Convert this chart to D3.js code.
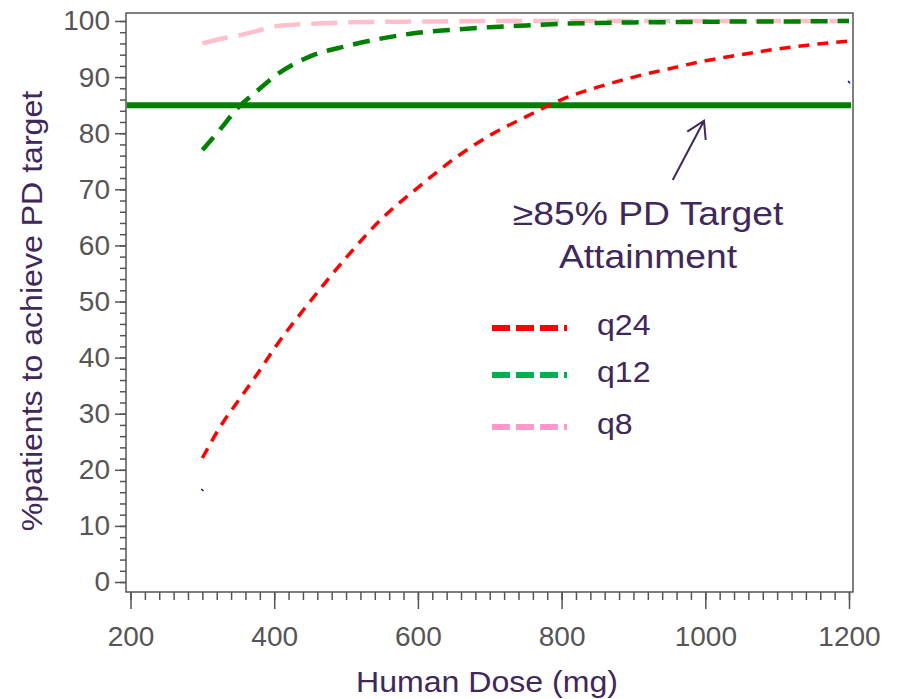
<!DOCTYPE html>
<html>
<head>
<meta charset="utf-8">
<script src="https://cdn.jsdelivr.net/npm/d3@7"></script>
<style>
  body { margin: 0; background: #fff; }
  svg text { font-family: "Liberation Sans", Arial, sans-serif; }
</style>
</head>
<body>
<svg width="901" height="699"></svg>
<script>
// valori
var dosi = [300, 325, 350, 375, 400, 450, 500, 550, 600, 650, 700, 750, 800, 850, 900, 950, 1000, 1050, 1100, 1150, 1200];
var q24 = [22.1, 27.7, 32.3, 36.8, 41.6, 50.0, 57.8, 64.8, 70.3, 75.4, 79.6, 82.9, 86.0, 88.2, 90.0, 91.5, 92.9, 94.0, 95.0, 95.8, 96.4];
var q12 = [77.0, 80.7, 84.6, 87.4, 90.1, 93.7, 95.5, 96.9, 97.9, 98.45, 98.9, 99.2, 99.5, 99.65, 99.75, 99.8, 99.85, 99.9, 99.9, 99.95, 100];
var q8 = [96.0, 96.8, 97.4, 98.2, 99.0, 99.5, 99.75, 99.85, 99.9, 99.95, 100, 100, 100, 100, 100, 100, 100, 100, 100, 100, 100];
var blu_dosi = [300, 1200];
var blu_valori = [16.4, 89.1];
var soglia = 85;
var x_ticks = [200, 400, 600, 800, 1000, 1200];
var y_ticks = [0, 10, 20, 30, 40, 50, 60, 70, 80, 90, 100];
var legenda = ["q24", "q12", "q8"];

var viola = "#40285a";

var svg = d3.select("svg");
var x = d3.scaleLinear().domain([200, 1200]).range([130.5, 849]);
var y = d3.scaleLinear().domain([0, 100]).range([582, 21]);

// cornice
svg.append("rect")
  .attr("x", 126).attr("y", 13)
  .attr("width", 727).attr("height", 579)
  .attr("fill", "none")
  .attr("stroke", "#555")
  .attr("stroke-width", 1.5);

// asse y
var minori_y = d3.range(0, 101, 2);
svg.append("g")
  .attr("transform", "translate(126,0)")
  .call(d3.axisLeft(y).tickValues(minori_y).tickSize(6).tickFormat(""))
  .call(function(g){ g.select(".domain").remove(); });
svg.append("g")
  .attr("transform", "translate(126,0)")
  .call(d3.axisLeft(y).tickValues(y_ticks).tickSize(11).tickPadding(5))
  .call(function(g){ g.select(".domain").remove(); })
  .selectAll("text")
  .attr("font-size", 28)
  .attr("font-family", "Liberation Sans, Arial, sans-serif")
  .attr("fill", "#555");

// asse x
var minori_x = d3.range(200, 1201, 20);
svg.append("g")
  .attr("transform", "translate(0,592)")
  .call(d3.axisBottom(x).tickValues(minori_x).tickSize(8).tickFormat(""))
  .call(function(g){ g.select(".domain").remove(); });
svg.append("g")
  .attr("transform", "translate(0,592)")
  .call(d3.axisBottom(x).tickValues(x_ticks).tickSize(17).tickPadding(17).tickFormat(d3.format("d")))
  .call(function(g){ g.select(".domain").remove(); })
  .selectAll("text")
  .attr("font-size", 28)
  .attr("font-family", "Liberation Sans, Arial, sans-serif")
  .attr("fill", "#555");

svg.selectAll(".tick line").attr("stroke", "#555").attr("stroke-width", 1.5);

// linea soglia 85%
svg.append("line")
  .attr("x1", 127).attr("x2", 851)
  .attr("y1", y(soglia)).attr("y2", y(soglia))
  .attr("stroke", "#008000")
  .attr("stroke-width", 6);

// curve
var linea = d3.line()
  .x(function(d){ return x(d[0]); })
  .y(function(d){ return y(d[1]); })
  .curve(d3.curveMonotoneX);

function disegna_curva(valori, colore, spessore, tratteggio){
  svg.append("path")
    .datum(dosi.map(function(d, i){ return [d, valori[i]]; }))
    .attr("d", linea)
    .attr("fill", "none")
    .attr("stroke", colore)
    .attr("stroke-width", spessore)
    .attr("stroke-dasharray", tratteggio);
}

disegna_curva(q8, "#ffc0cb", 4.5, "26,11");
disegna_curva(q12, "#008000", 4.5, "17,10");
disegna_curva(q24, "#ff0000", 3.5, "11,8");

// piccoli segni blu
blu_dosi.forEach(function(d, i){
  svg.append("line")
    .attr("x1", x(d) - 1).attr("x2", x(d) + 1)
    .attr("y1", y(blu_valori[i]) - 1).attr("y2", y(blu_valori[i]) + 1)
    .attr("stroke", "#0000ff")
    .attr("stroke-width", 1.5);
});

// testo allargato in orizzontale come nell'originale
function testo(tx, ty, size, stretch, anchor, str){
  return svg.append("text")
    .attr("transform", "translate(" + tx + "," + ty + ") scale(" + stretch + ",1)")
    .attr("text-anchor", anchor)
    .attr("font-size", size)
    .attr("fill", viola)
    .text(str);
}

// legenda
var colori_legenda = ["#ff0000", "#00b050", "#ff99cc"];
var y_legenda = [328, 375, 427];
legenda.forEach(function(nome, i){
  svg.append("line")
    .attr("x1", 492).attr("x2", 567)
    .attr("y1", y_legenda[i]).attr("y2", y_legenda[i])
    .attr("stroke", colori_legenda[i])
    .attr("stroke-width", 6)
    .attr("stroke-dasharray", "18,6");
  testo(597, y_legenda[i] + 7, 30, 1.07, "start", nome);
});

// annotazione
testo(648, 225, 33, 1.13, "middle", "≥85% PD Target");
testo(648, 268, 33, 1.13, "middle", "Attainment");

svg.append("path")
  .attr("d", "M672.7,180L704,120.7M687.3,131.7L704,120.7L705.7,140")
  .attr("fill", "none")
  .attr("stroke", viola)
  .attr("stroke-width", 2);

// titoli assi
testo(487, 692, 30, 1.07, "middle", "Human Dose (mg)");
svg.append("text")
  .attr("transform", "translate(42,311) rotate(-90) scale(1.07,1)")
  .attr("text-anchor", "middle")
  .attr("font-size", 30)
  .attr("fill", viola)
  .text("%patients to achieve PD target");
</script>
</body>
</html>
